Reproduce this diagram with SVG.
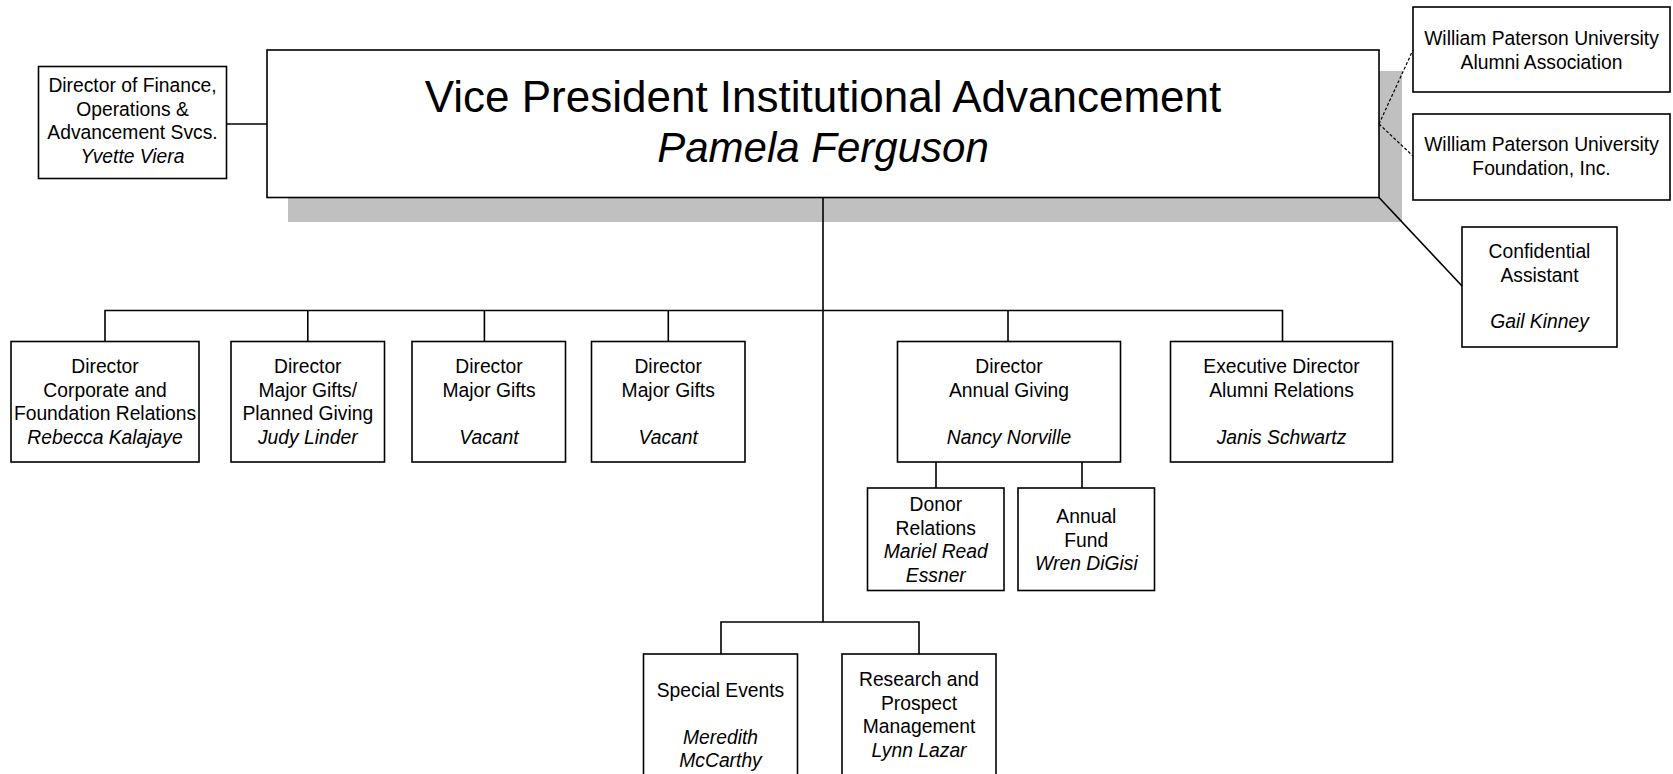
<svg xmlns="http://www.w3.org/2000/svg" width="1673" height="774" viewBox="0 0 1673 774">
<style>
.box{fill:#fff;stroke:#000;stroke-width:1.6}
.shadow{fill:#c0c0c0;stroke:none}
.ln{fill:none;stroke:#000;stroke-width:1.6}
.dash{fill:none;stroke:#000;stroke-width:1.2;stroke-dasharray:3 2}
text{font-family:"Liberation Sans",Arial,sans-serif;font-size:19.3px;fill:#000;text-anchor:middle}
.i{font-style:italic}
.big{font-size:44px}
.name{font-size:42px}
</style>
<rect width="1673" height="774" fill="#fff"/>

<g id="vp">
<rect class="shadow" x="288" y="71" width="1114" height="151"/>
<rect class="box" x="267" y="50" width="1112" height="147.5"/>
<text class="big" x="823" y="112">Vice President Institutional Advancement</text>
<text class="name i" x="823" y="162">Pamela Ferguson</text>
</g>

<g id="finance">
<rect class="box" x="38.5" y="66.5" width="188" height="112"/>
<text x="132.5" y="92">Director of Finance,</text>
<text x="132.5" y="115.5">Operations &amp;</text>
<text x="132.5" y="139">Advancement Svcs.</text>
<text class="i" x="132.5" y="162.5">Yvette Viera</text>
</g>

<g id="alumni-assoc">
<rect class="box" x="1413" y="7" width="257" height="85"/>
<text x="1541.5" y="45">William Paterson University</text>
<text x="1541.5" y="68.5">Alumni Association</text>
</g>

<g id="foundation">
<rect class="box" x="1413" y="114" width="257" height="86"/>
<text x="1541.5" y="151">William Paterson University</text>
<text x="1541.5" y="175">Foundation, Inc.</text>
</g>

<g id="confidential">
<rect class="box" x="1462" y="227" width="155" height="120"/>
<text x="1539.5" y="258">Confidential</text>
<text x="1539.5" y="282">Assistant</text>
<text class="i" x="1539.5" y="328">Gail Kinney</text>
</g>

<g id="corp-found">
<rect class="box" x="11" y="341.5" width="188" height="120.5"/>
<text x="105" y="373">Director</text>
<text x="105" y="396.5">Corporate and</text>
<text x="105" y="420">Foundation Relations</text>
<text class="i" x="105" y="443.5">Rebecca Kalajaye</text>
</g>

<g id="major-planned">
<rect class="box" x="231" y="341.5" width="153.5" height="120.5"/>
<text x="307.8" y="373">Director</text>
<text x="307.8" y="396.5">Major Gifts/</text>
<text x="307.8" y="420">Planned Giving</text>
<text class="i" x="307.8" y="443.5">Judy Linder</text>
</g>

<g id="major-gifts-1">
<rect class="box" x="412" y="341.5" width="153.5" height="120.5"/>
<text x="489" y="373">Director</text>
<text x="489" y="396.5">Major Gifts</text>
<text class="i" x="489" y="443.5">Vacant</text>
</g>

<g id="major-gifts-2">
<rect class="box" x="591.5" y="341.5" width="153.5" height="120.5"/>
<text x="668.2" y="373">Director</text>
<text x="668.2" y="396.5">Major Gifts</text>
<text class="i" x="668.2" y="443.5">Vacant</text>
</g>

<g id="annual-giving">
<rect class="box" x="897.5" y="341.5" width="223" height="120.5"/>
<text x="1009" y="373">Director</text>
<text x="1009" y="396.5">Annual Giving</text>
<text class="i" x="1009" y="443.5">Nancy Norville</text>
</g>

<g id="alumni-relations">
<rect class="box" x="1170.5" y="341.5" width="222" height="120.5"/>
<text x="1281.5" y="373">Executive Director</text>
<text x="1281.5" y="396.5">Alumni Relations</text>
<text class="i" x="1281.5" y="443.5">Janis Schwartz</text>
</g>

<g id="donor-relations">
<rect class="box" x="867.5" y="488" width="136.5" height="102.5"/>
<text x="935.8" y="511">Donor</text>
<text x="935.8" y="534.5">Relations</text>
<text class="i" x="935.8" y="558">Mariel Read</text>
<text class="i" x="935.8" y="581.5">Essner</text>
</g>

<g id="annual-fund">
<rect class="box" x="1018" y="488" width="136.5" height="102.5"/>
<text x="1086.3" y="523">Annual</text>
<text x="1086.3" y="546.5">Fund</text>
<text class="i" x="1086.3" y="570">Wren DiGisi</text>
</g>

<g id="special-events">
<rect class="box" x="643.5" y="654" width="154" height="140"/>
<text x="720.5" y="697">Special Events</text>
<text class="i" x="720.5" y="744">Meredith</text>
<text class="i" x="720.5" y="767">McCarthy</text>
</g>

<g id="research">
<rect class="box" x="842" y="654" width="154" height="140"/>
<text x="919" y="686">Research and</text>
<text x="919" y="710">Prospect</text>
<text x="919" y="733">Management</text>
<text class="i" x="919" y="756.5">Lynn Lazar</text>
</g>

<g id="connectors">
<path class="ln" d="M267 124H226.5"/>
<path class="dash" d="M1379 124L1413 50M1379 124L1413 156"/>
<path class="ln" d="M1379 197.5L1462 286"/>
<path class="ln" d="M823 197.5V622"/>
<path class="ln" d="M105 341.5V310.5H1282.5V341.5"/>
<path class="ln" d="M307.8 310.5V341.5M484.4 310.5V341.5M668.3 310.5V341.5M1008 310.5V341.5"/>
<path class="ln" d="M936 462V488M1082 462V488"/>
<path class="ln" d="M721 654V622H919V654"/>
</g>
</svg>
